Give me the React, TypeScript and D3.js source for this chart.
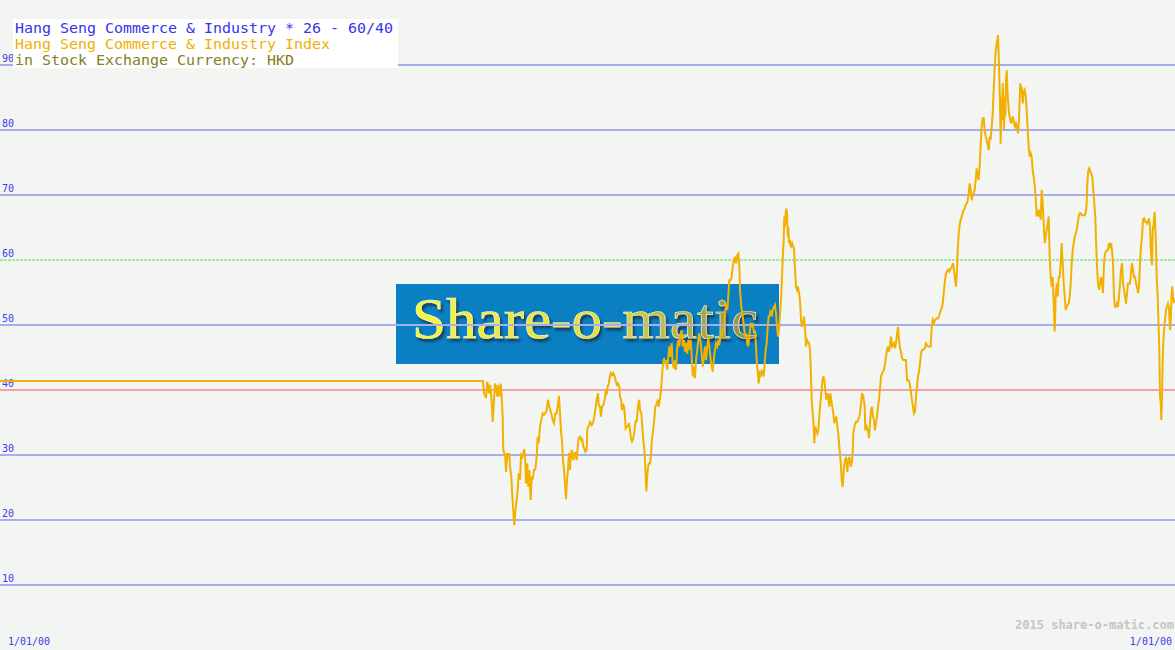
import React from "react";
import * as d3 from "d3";

const W = 1175;
const H = 650;

const titleLines = [
  "Hang Seng Commerce & Industry * 26 - 60/40",
  "Hang Seng Commerce & Industry Index",
  "in Stock Exchange Currency: HKD",
];
const gridValues = [10, 20, 30, 40, 50, 60, 70, 80, 90];
const upperLevel = 60;
const lowerLevel = 40;
const dateLabels = ["1/01/00", "1/01/00"];
const copyright = "2015 share-o-matic.com";
const logoText = "Share-o-matic";

// [observation index, index value]
const flatPart: [number, number][] = [
  [0, 41.4], [483, 41.4],
];
const part1: [number, number][] = [
  [484, 39.5], [486, 38.8], [487.3, 41.3], [489, 39.5], [490, 40.8], [491, 39.5], [492, 37.4], [492.7, 35.1],
  [494, 38.5], [495, 41.0], [496, 40.5], [497.3, 39.0], [498.3, 40.8], [499.3, 39.0], [500.7, 41.0], [501.7, 39.0],
  [502.7, 35.6], [503.3, 30.8], [504.3, 30.3], [505.3, 29.7], [506, 27.4], [507.3, 30.3], [508.7, 29.7], [509.3, 30.3],
  [510, 28.2], [511.3, 26.7], [512, 24.6], [513.3, 21.3], [514.3, 19.2], [515.3, 21.3], [516.7, 23.1], [517.7, 24.6],
  [518.7, 27.2], [520, 26.2], [521, 30.0], [522.3, 29.7], [523.3, 30.3], [524.3, 30.9], [525.3, 29.2], [526, 25.6],
  [527.3, 28.7], [528.3, 25.1], [529.3, 27.7], [530.7, 23.1], [531.7, 26.7], [532.7, 26.2], [534, 27.7], [535.3, 27.8],
  [536.7, 29.7], [537.7, 32.8], [538.7, 31.8], [540, 34.4], [541.3, 35.4], [542.7, 36.4], [544, 36.2], [545.3, 36.4],
  [546.7, 36.9], [548, 38.5], [549, 37.7], [550.3, 36.9], [551.3, 36.4], [552.7, 35.4], [554, 34.9], [555.3, 36.4],
  [556.7, 36.4], [558, 37.9], [559, 39.1], [560, 36.4], [561, 33.6], [562, 32.3], [563, 29.2], [564, 27.7],
  [565, 25.6], [566, 23.2], [567, 26.2], [568, 27.7], [569, 30.3], [570, 27.7], [570.7, 29.7], [571.7, 30.8],
  [572.7, 29.7], [573.3, 29.2], [574.3, 30.3], [575.3, 30.3], [576.7, 29.2], [577.7, 31.3], [578.7, 32.6], [580, 32.8],
  [581.3, 32.3], [582, 32.6], [583.3, 31.3], [584.3, 31.0], [585.3, 30.5], [586.7, 30.8], [587.3, 34.1], [588.7, 34.4],
  [590, 35.1], [591.7, 34.6], [593.3, 35.1], [594.3, 35.9], [595.7, 37.4], [596.7, 38.5], [598, 39.5], [598.7, 37.7],
  [600, 37.4], [601, 35.9], [602, 37.4], [603.3, 37.7], [604.7, 38.5], [605.7, 39.7], [606.7, 39.5], [607.7, 40.5],
  [608.7, 41.0], [610, 42.1], [611, 42.6], [612, 42.3], [613.3, 42.6], [614.7, 42.1], [615.7, 41.5], [616.7, 40.8],
  [618, 41.0], [619.3, 40.5], [620, 39.0], [621, 38.5], [622, 36.9], [623, 37.9], [624, 37.4], [624.7, 36.4],
  [625.7, 34.1], [626.7, 34.4], [628, 34.4], [629, 34.9], [630, 33.8], [631, 32.6], [632, 32.1], [632.7, 32.3],
  [634, 33.1], [635, 34.4], [636, 35.4], [636.7, 35.1], [637.7, 36.9], [638.3, 37.9], [639.3, 38.5], [640, 36.9],
  [641.3, 36.4], [642, 34.9], [643.3, 32.3], [644.3, 30.8], [645.3, 28.2], [646.3, 24.4], [647.7, 27.7], [648.7, 28.7],
  [650, 28.7], [651, 30.0], [652, 32.6], [653, 33.6], [654, 35.1], [655.3, 37.4], [656.7, 37.9], [657.7, 38.5],
  [658.7, 37.4], [659.7, 38.5], [660.7, 39.5],
];
const part2: [number, number][] = [
  [661.7, 41.5], [662.7, 43.6], [664, 44.9], [665, 44.1], [666, 44.6], [667.3, 43.1], [668.3, 45.1], [669.3, 46.7],
  [670.7, 45.1], [671.7, 47.2], [672.7, 44.1], [674, 43.3], [675, 44.6], [676, 43.1], [677.3, 46.7], [678.3, 47.7],
  [679.3, 46.7], [680.7, 48.7], [681.7, 49.2], [682.7, 46.7], [684, 47.7], [685, 45.9], [686, 47.2], [687.3, 45.6],
  [688.3, 47.7], [689.3, 46.2], [690.7, 47.7], [691.7, 45.1], [692.7, 42.1], [694, 43.6], [695, 41.8], [696, 44.6],
  [697.3, 46.2], [698.3, 47.7], [699.3, 48.7], [700.7, 47.2], [701.7, 45.6], [702.7, 43.6], [704, 45.1], [705, 46.7],
  [706, 44.6], [707.3, 46.7], [708.3, 48.2], [709.3, 46.7], [710.7, 44.6], [711.7, 43.6], [712.7, 42.8], [714, 45.1],
  [715, 46.2], [716, 47.2], [717.3, 46.7], [718.3, 47.7], [719.3, 46.9], [720.7, 48.7], [721.7, 48.2], [722.7, 49.2],
  [724, 50.3], [725, 51.8], [726, 53.3], [727.3, 52.3], [728.3, 54.4], [729.3, 56.9], [730.7, 56.9], [731.7, 57.4],
  [732.7, 59.0], [734, 60.0], [735, 60.5], [736, 59.5], [737.3, 60.8], [738.3, 61.0], [739.3, 59.0], [740, 55.4],
  [741.3, 52.8], [742.7, 51.3], [744, 49.7], [745, 48.2], [746, 48.7], [747.3, 47.2], [748.3, 46.7], [749.3, 48.2],
  [750.7, 50.3], [751.7, 49.7], [752.7, 50.3], [754, 48.7], [755, 49.2], [756, 46.7], [756.7, 44.6], [757.7, 42.8],
  [758.7, 41.0], [759.7, 42.6], [760.7, 42.3], [761.7, 43.1], [762.7, 42.6], [763.7, 42.1], [764.7, 44.1], [765.7, 46.2],
  [766.7, 47.2], [767.7, 49.7], [768.7, 51.3], [769.7, 51.5], [770.7, 52.3], [771.7, 51.3], [772.7, 52.3], [774, 52.8],
  [775, 53.1], [776, 51.8], [777, 49.7], [778, 48.2], [779, 49.2], [780, 51.8], [781, 53.8], [782, 57.4],
  [783, 61.0], [783.7, 63.1], [784.3, 66.7], [785, 65.1], [785.7, 67.2], [786.3, 67.9], [787, 67.2], [787.7, 63.6],
  [788.3, 65.1], [789, 62.6], [789.7, 63.1], [790.3, 62.3], [791, 62.1], [792, 62.6], [793, 62.1], [794, 61.8],
  [795, 58.5], [796, 55.9], [797, 55.4], [798, 55.9], [799, 54.9], [800, 53.8], [801, 50.8], [802, 49.7],
  [803, 50.3], [804, 51.3], [805, 49.7], [806, 46.7], [807, 47.7], [808, 47.4], [809, 47.2], [810, 46.2],
  [810.7, 43.6], [811.7, 38.5], [812.7, 36.4], [813.7, 34.4], [814.3, 31.8], [815.3, 34.4], [816.3, 33.8], [817.3, 33.3],
  [818.3, 33.8], [819.3, 35.9], [820.3, 37.9], [821.3, 39.5], [822.3, 41.3], [823.3, 42.1], [824.3, 41.5], [825.3, 40.0],
  [826.3, 38.5], [827.3, 39.5], [828.3, 39.0], [829.3, 37.4], [830.3, 39.5], [831.3, 38.5], [832.3, 37.4], [833.3, 36.4],
  [834.3, 34.9], [835.3, 35.4], [836.3, 35.9], [837.3, 34.4], [838.3, 33.3], [839.3, 31.3], [840.3, 29.7], [841, 28.2],
  [841.7, 26.2], [842.7, 25.1],
];
const part3: [number, number][] = [
  [844, 28.2], [845, 29.2], [846, 29.7], [847.3, 27.4], [848.3, 29.2], [849.3, 29.7], [850.7, 28.2], [851.7, 28.7],
  [852.7, 30.3], [853.3, 33.3], [854.7, 34.6], [856, 35.1], [857.3, 35.1], [858.7, 35.6], [860, 36.4], [861, 37.9],
  [862, 39.5], [863.3, 39.0], [864.7, 37.4], [865.3, 33.8], [866.7, 34.4], [868, 33.8], [869, 32.6], [870, 34.9],
  [871, 36.9], [872, 37.4], [873, 35.9], [874, 35.4], [875, 33.8], [876, 34.9], [877, 35.9], [878, 37.4],
  [879, 38.5], [880, 40.3], [881, 42.1], [882, 42.6], [883, 42.8], [884, 43.1], [885, 44.1], [886, 45.1],
  [887, 46.2], [888, 46.7], [889, 45.9], [890, 46.9], [891, 48.2], [892, 46.7], [893, 46.9], [894, 47.2],
  [895, 46.4], [896, 47.2], [897, 48.5], [898, 49.7], [899, 47.7], [900, 46.4], [901, 45.9], [902, 44.9],
  [903.3, 44.6], [904.7, 44.6], [906, 44.6], [907, 41.5], [908.3, 41.5], [909.3, 41.3], [910.7, 40.0], [911.7, 38.7],
  [912.7, 37.7], [914, 36.4], [915, 36.7], [916, 39.0], [917, 40.5], [918, 42.1], [919, 42.8], [920, 44.1],
  [921, 45.6], [922, 46.2], [923.3, 46.2], [924.7, 46.4], [926, 47.2], [927, 46.9], [928, 46.7], [929.3, 46.7],
  [930.7, 46.7], [931.7, 49.7], [932.7, 50.8], [934, 50.3], [935, 50.8], [936.7, 51.0], [938, 51.0], [939.3, 51.5],
  [940.7, 52.3], [941.7, 52.6], [942.7, 53.3], [943.7, 54.9], [944.7, 56.4], [945.7, 57.7], [946.7, 58.2], [948, 58.5],
  [949.3, 58.2], [950.7, 58.7], [952, 59.0], [953, 59.5], [954, 58.5], [955, 57.2], [956, 55.9], [957, 58.5],
  [957.7, 61.5], [958.7, 64.1], [959.7, 65.4], [960.7, 66.2], [961.7, 66.7], [962.7, 67.2], [963.7, 67.7], [964.7, 67.9],
  [965.7, 68.5], [966.7, 68.7], [967.7, 69.2], [968.7, 70.3], [969.7, 71.8], [970.7, 70.8], [971.7, 69.2], [972.7, 70.0],
  [973.7, 70.3], [974.7, 70.8], [975.7, 72.3], [976.7, 74.1], [977.7, 72.8], [978.7, 72.3], [979.7, 74.4], [980.7, 77.9],
  [981.7, 80.5], [982.7, 81.8], [983.7, 81.8], [984.7, 80.0], [985.7, 79.0], [986.7, 78.5], [987.7, 77.7], [988.7, 76.9],
  [989.7, 79.0], [990.7, 78.5], [991.7, 80.5], [992.7, 82.6], [993.7, 86.2], [994.7, 89.7], [995.7, 92.3], [996.7, 93.3],
  [997.3, 93.8], [998, 94.6], [998.7, 91.3], [999.3, 88.2], [1000, 84.1], [1000.7, 77.9], [1001.3, 85.1], [1002, 81.5],
  [1002.7, 87.2], [1003.3, 84.1], [1004, 80.0], [1004.7, 85.1], [1005.3, 82.1], [1006, 87.7], [1006.7, 89.2], [1007.3, 86.7],
  [1008, 84.6], [1009, 82.6], [1010, 81.8], [1011, 81.0], [1012, 81.5], [1013, 82.1], [1014, 81.0], [1015, 80.5],
  [1016, 81.0], [1017, 80.5], [1018, 79.5], [1019, 81.5], [1019.7, 85.1], [1020.3, 87.2], [1021, 85.6], [1021.7, 86.7],
  [1022.7, 84.1], [1023.7, 85.9], [1024.7, 86.2], [1025.7, 85.1], [1026.7, 83.1], [1027.7, 80.0], [1028.7, 77.4], [1029.7, 75.9],
  [1030.7, 76.4], [1031.7, 75.9], [1032.7, 73.8], [1033.7, 72.8], [1034.7, 71.5], [1035.7, 69.7], [1036.7, 66.7], [1037.7, 67.7],
  [1038.7, 66.7], [1039.7, 67.7], [1040.7, 66.2], [1041.7, 70.8], [1042.7, 68.7], [1043.7, 65.6], [1044.7, 62.6], [1045.7, 63.6],
  [1046.7, 64.6], [1047.7, 65.6], [1048.7, 66.7], [1049.7, 60.5], [1050.7, 57.4], [1051.7, 55.9], [1052.7, 57.4], [1053.7, 53.3],
  [1054.7, 49.0], [1055.7, 54.4], [1056.7, 56.4], [1057.7, 54.4], [1058.7, 57.4], [1059.7, 57.4], [1060.7, 59.5], [1061.7, 62.6],
  [1062.7, 59.5], [1063.7, 56.4], [1064.7, 54.4], [1065.7, 52.3], [1066.7, 52.8], [1067.7, 53.1], [1068.7, 53.3], [1069.7, 54.4],
  [1070.7, 56.4], [1071.7, 59.5], [1072.7, 61.5], [1073.7, 62.6], [1074.7, 63.6], [1075.7, 64.1], [1076.7, 64.6], [1077.7, 65.6],
  [1078.7, 66.7], [1079.7, 67.2], [1080.7, 67.2], [1081.7, 66.9], [1082.7, 66.9], [1083.7, 66.9], [1084.7, 66.9], [1085.7, 67.2],
  [1086.7, 68.7], [1087.3, 71.8], [1088.3, 73.8], [1089.3, 74.1], [1090.3, 73.6], [1091.3, 73.3], [1092.3, 72.8], [1093.3, 70.8],
  [1094.3, 68.7], [1095.3, 66.7], [1096, 63.1], [1097, 59.0], [1098, 56.4], [1099, 55.4], [1100, 56.4], [1101, 57.4],
  [1102, 56.4], [1103, 54.9], [1104, 59.5], [1105, 61.0], [1106, 61.3], [1107, 61.5], [1108, 61.5], [1109, 62.6],
  [1110, 62.1], [1111, 62.6], [1112, 61.5], [1113, 59.5], [1114, 54.4], [1115, 52.8], [1116, 52.8], [1117, 53.3],
  [1118, 52.8], [1119, 54.4], [1120, 56.4], [1121, 58.5], [1122, 59.5], [1123, 56.4], [1124, 55.4], [1125, 54.4],
  [1126, 53.3], [1127, 54.9], [1128, 56.4], [1129, 56.4], [1130, 56.4], [1131, 57.9], [1132, 59.5], [1133, 58.5],
  [1134, 57.4], [1135, 57.4], [1136, 56.4], [1137, 55.9], [1138, 54.9], [1139, 55.9], [1140, 59.5], [1141, 62.1],
  [1142, 63.6], [1143, 66.2], [1144, 66.4], [1145, 65.9], [1146, 65.9], [1147, 65.6], [1148, 65.9], [1149, 66.4],
  [1150, 65.1], [1151, 61.0], [1152, 59.2], [1152.7, 64.6], [1153.7, 65.6], [1154.7, 67.4], [1155.3, 65.1], [1156, 62.1],
  [1156.7, 57.4], [1157.7, 54.4], [1158.7, 49.2], [1159.3, 46.2], [1160, 39.0], [1160.7, 38.0], [1161.3, 35.4], [1162, 39.0],
  [1162.7, 44.6], [1163.3, 47.2], [1164, 49.2], [1165, 50.8], [1166, 52.3], [1167, 52.8], [1168, 53.3], [1169, 52.6],
  [1170, 49.2], [1170.7, 50.8], [1171.7, 54.9], [1172.3, 55.9], [1173, 54.4], [1174, 53.6], [1175, 53.8],
];

const series: [number, number][] = [...flatPart, ...part1, ...part2, ...part3];

const MONO = "'DejaVu Sans Mono', monospace";

export default function App() {
  const x = d3.scaleLinear().domain([0, 1175]).range([0, W]);
  const y = d3.scaleLinear().domain([0, 100]).range([H, 0]);

  const line = d3
    .line<[number, number]>()
    .x((d) => x(d[0]))
    .y((d) => y(d[1]));

  const gridColor = (v: number) =>
    v === lowerLevel ? "#f0a4a4" : v === upperLevel ? "#a4e6a4" : "#a6aeee";

  return (
    <svg
      width={W}
      height={H}
      style={{ position: "fixed", left: 0, top: 0, display: "block" }}
      xmlns="http://www.w3.org/2000/svg"
    >
      <defs>
        <linearGradient id="logoGrad" x1="0" y1="0" x2="1" y2="0">
          <stop offset="0" stopColor="#f6f640" />
          <stop offset="0.55" stopColor="#e0dc40" />
          <stop offset="1" stopColor="#8a8c50" />
        </linearGradient>
        <filter id="logoShadow" x="-5%" y="-20%" width="110%" height="140%">
          <feDropShadow dx="2" dy="3" stdDeviation="0.8" floodColor="#1c3040" floodOpacity="0.85" />
        </filter>
      </defs>
      <rect x={0} y={0} width={W} height={H} fill="#f3f5f2" />

      {/* logo */}
      <rect x={396} y={284} width={383} height={80} fill="#0a7fc2" />
      <text
        x={412}
        y={338}
        fontFamily="'Liberation Serif', 'DejaVu Serif', serif"
        fontSize={58}
        textLength={346}
        lengthAdjust="spacingAndGlyphs"
        fill="url(#logoGrad)"
        stroke="#fafad0"
        strokeWidth={0.6}
        filter="url(#logoShadow)"
      >
        {logoText}
      </text>

      {/* grid lines */}
      {gridValues.map((v) => (
        <g key={v}>
          <line
            x1={0}
            x2={W}
            y1={y(v)}
            y2={y(v)}
            stroke={gridColor(v)}
            strokeWidth={2}
            strokeDasharray={v === upperLevel ? "3 1" : undefined}
          />
          <text
            x={2}
            y={y(v) - 3}
            fontFamily={MONO}
            fontSize={10}
            fill="#3c3cf0"
          >
            {v}
          </text>
        </g>
      ))}

      {/* series */}
      <path d={line(series) || ""} fill="none" stroke="#f2b000" strokeWidth={2} strokeLinejoin="miter" />

      {/* legend */}
      <rect x={13} y={19} width={385} height={49} fill="#ffffff" />
      {titleLines.map((t, i) => (
        <text
          key={i}
          x={15}
          y={33 + i * 16}
          fontFamily={MONO}
          fontSize={14}
          textLength={t.length * 9}
          lengthAdjust="spacingAndGlyphs"
          fill={i === 0 ? "#3434ec" : i === 1 ? "#f0b000" : "#838022"}
        >
          {t}
        </text>
      ))}

      {/* footer */}
      <text
        x={1174}
        y={629}
        textAnchor="end"
        fontFamily={MONO}
        fontSize={12}
        fontWeight="bold"
        fill="#c4c4c4"
      >
        {copyright}
      </text>
      <text x={8} y={645} fontFamily={MONO} fontSize={10} fill="#3c3cf0">
        {dateLabels[0]}
      </text>
      <text x={1172} y={645} textAnchor="end" fontFamily={MONO} fontSize={10} fill="#3c3cf0">
        {dateLabels[1]}
      </text>
    </svg>
  );
}
